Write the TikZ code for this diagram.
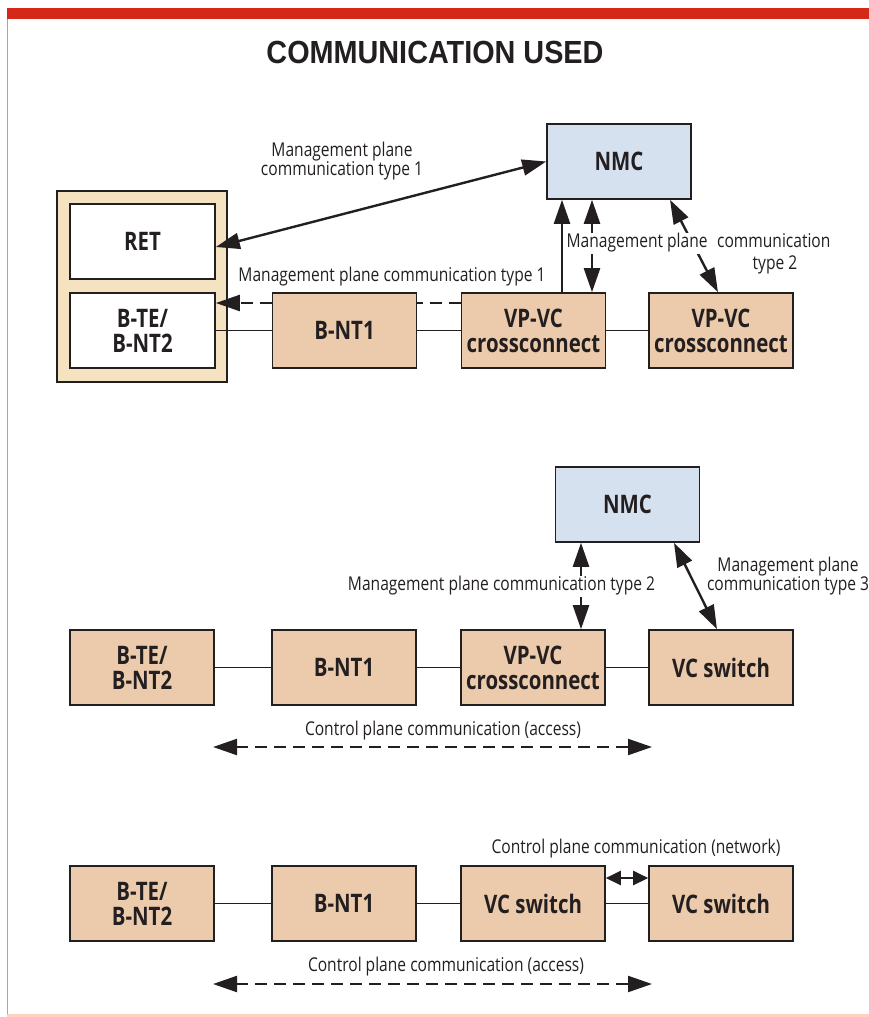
\documentclass[tikz,border=0pt]{standalone}
\usepackage{fontspec}
\setmainfont{Open Sans}[FakeStretch=0.82]
\newfontfamily\boxfont{Open Sans}[FakeStretch=0.8]
\newfontfamily\titlefont{Liberation Sans}[FakeStretch=0.9]
\usetikzlibrary{arrows.meta,calc}
\definecolor{tanc}{RGB}{236,202,172}
\definecolor{conttan}{RGB}{245,226,192}
\definecolor{nmcblue}{RGB}{214,225,240}
\definecolor{linec}{RGB}{35,31,32}
\definecolor{redbar}{RGB}{212,40,24}
\tikzset{
  box/.style={draw=linec, line width=1.6pt, fill=tanc, minimum width=144pt, minimum height=75pt,
    font=\boxfont\bfseries\fontsize{25.5}{25}\selectfont, text=linec, align=center, inner sep=0pt},
  whitebox/.style={box, fill=white},
  nmcbox/.style={box, fill=nmcblue},
  lbl/.style={font=\fontsize{19}{19}\selectfont, text=linec, align=center, inner sep=1pt},
  conn/.style={draw=linec, line width=1.3pt},
  arr/.style={draw=linec, line width=2.4pt},
  dbl/.style={arrows={Triangle[length=24pt,width=16pt]-Triangle[length=24pt,width=16pt]}},
  endarr/.style={arrows={-Triangle[length=24pt,width=16pt]}},
  sdbl/.style={arrows={Triangle[length=15pt,width=14pt]-Triangle[length=15pt,width=14pt]}},
  dashline/.style={draw=linec, line width=2.2pt, dash pattern=on 12pt off 7pt},
}
\begin{document}
\begin{tikzpicture}[x=1pt,y=-1pt]
\useasboundingbox (0,0) rectangle (869,1017);
\fill[redbar] (7,8) rectangle (869,19);
\draw[gray!70, line width=1pt] (7,19) -- (7,1017);
\fill[orange!20!pink!60!white] (7,1014) rectangle (869,1017);
\node[font=\titlefont\bfseries\fontsize{32}{32}\selectfont, text=linec] (title) at (435,52) {COMMUNICATION USED};

% ---- top section ----
\node[box, fill=conttan, minimum width=170pt, minimum height=191pt] (cont) at (142,286.5) {};
\node[whitebox, minimum width=145pt] (ret) at (142.5,241.5) {RET};
\node[whitebox, minimum width=145pt] (bte1) at (142.5,330.5) {B-TE/\\B-NT2};
\node[box] (bnt1a) at (344.5,330.5) {B-NT1};
\node[box] (vp1a) at (533.5,330.5) {VP-VC\\crossconnect};
\node[box] (vp2a) at (721,330.5) {VP-VC\\crossconnect};
\node[nmcbox] (nmc1) at (619,161.5) {NMC};

\draw[conn] (bte1.east) -- (bnt1a.west);
\draw[conn] (bnt1a.east) -- (vp1a.west);
\draw[conn] (vp1a.east) -- (vp2a.west);

\draw[arr, dbl] (nmc1.west) -- ([yshift=-5.5pt]ret.east);
\node[lbl] (l1) at (342,161) {Management plane\\communication type 1};

\draw[dashline] ([yshift=27.5pt]vp1a.west) -- ([yshift=27.5pt]bnt1a.east);
\draw[dashline, endarr] ([yshift=27.5pt]bnt1a.west) -- ([yshift=27.5pt]bte1.east);
\node[lbl] (l2) at (392,277) {Management plane communication type 1};

\draw[arr, endarr] ([xshift=28.5pt]vp1a.north) -- ([xshift=28.5pt]vp1a.north |- nmc1.south);
\draw[arr, dbl] ([xshift=58.5pt]vp1a.north |- nmc1.south) -- ([xshift=58.5pt]vp1a.north);
\draw[arr, dbl] ([xshift=51pt]nmc1.south) -- ([xshift=-3pt]vp2a.north);
\node[lbl, fill=white] (l3) at (698.5,243) {Management plane\enspace communication};
\node[lbl] (l3b) at (775,265) {type 2};

% ---- middle section ----
\node[box] (bte2) at (142,667.5) {B-TE/\\B-NT2};
\node[box] (bnt2) at (344,667.5) {B-NT1};
\node[box] (vp2) at (533,667.5) {VP-VC\\crossconnect};
\node[box] (vcs2) at (721,667.5) {VC switch};
\node[nmcbox] (nmc2) at (627.5,504.5) {NMC};

\draw[conn] (bte2.east) -- (bnt2.west);
\draw[conn] (bnt2.east) -- (vp2.west);
\draw[conn] (vp2.east) -- (vcs2.west);

\draw[arr, dbl] ([xshift=-46.5pt]nmc2.south) -- ([xshift=-46.5pt]nmc2.south |- vp2.north);
\node[lbl, fill=white] (l4) at (501.5,586) {Management plane communication type 2};
\draw[arr, dbl] ([xshift=46.5pt]nmc2.south) -- ([xshift=-4pt]vcs2.north);
\node[lbl] (l5) at (788,576) {Management plane\\communication type 3};

\coordinate (a2l) at (213,747);
\coordinate (a2r) at (652,747);
\draw[dashline, dbl] (a2l) -- (a2r);
\node[lbl] (l6) at (443,731) {Control plane communication (access)};

% ---- bottom section ----
\node[box] (bte3) at (142,903.5) {B-TE/\\B-NT2};
\node[box] (bnt3) at (344,903.5) {B-NT1};
\node[box] (vcs3a) at (533,903.5) {VC switch};
\node[box] (vcs3b) at (721,903.5) {VC switch};

\draw[conn] (bte3.east) -- (bnt3.west);
\draw[conn] (bnt3.east) -- (vcs3a.west);
\draw[conn] (vcs3a.east) -- (vcs3b.west);
\draw[arr, sdbl] ([yshift=25.5pt]vcs3a.east) -- ([yshift=25.5pt]vcs3b.west);
\node[lbl] (l7) at (636,849) {Control plane communication (network)};

\coordinate (a3l) at (213,984);
\coordinate (a3r) at (652,984);
\draw[dashline, dbl] (a3l) -- (a3r);
\node[lbl] (l8) at (446,967) {Control plane communication (access)};
\end{tikzpicture}
\end{document}
